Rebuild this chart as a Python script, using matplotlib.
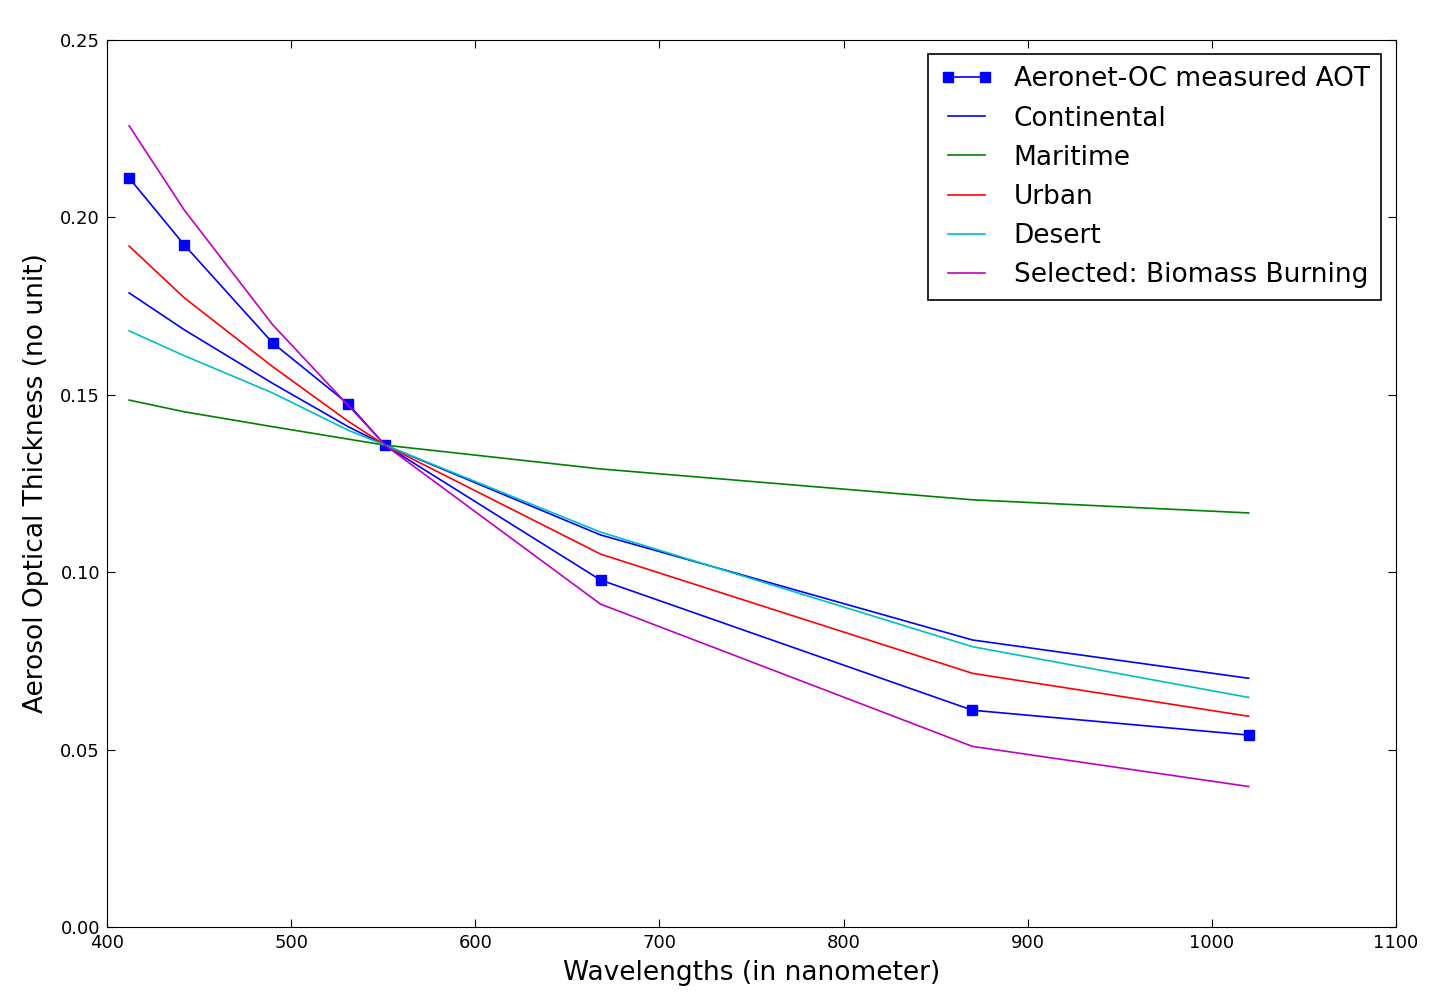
import matplotlib
matplotlib.use('Agg')
import matplotlib.pyplot as plt

wavelengths = [412, 442, 490, 531, 551, 668, 870, 1020]

aeronet = [0.2111, 0.1922, 0.1646, 0.1474, 0.1358, 0.0978, 0.0611, 0.0541]
continental = [0.1787, 0.1683, 0.1532, 0.1410, 0.1358, 0.1105, 0.0809, 0.0701]
maritime = [0.1485, 0.1452, 0.1410, 0.1375, 0.1358, 0.1291, 0.1204, 0.1167]
urban = [0.1919, 0.1773, 0.1579, 0.1425, 0.1358, 0.1051, 0.0715, 0.0594]
desert = [0.1680, 0.1610, 0.1505, 0.1400, 0.1358, 0.1113, 0.0790, 0.0647]
biomass = [0.2258, 0.2020, 0.1697, 0.1470, 0.1358, 0.0910, 0.0509, 0.0396]

labels = ['Aeronet-OC measured AOT', 'Continental', 'Maritime', 'Urban',
          'Desert', 'Selected: Biomass Burning']

fig = plt.figure(figsize=(14.29, 9.98), dpi=100)
ax = fig.add_axes([0.0749, 0.0711, 0.902, 0.8889])

ax.plot(wavelengths, aeronet, 'bs-', markersize=7, lw=1.2, label=labels[0])
ax.plot(wavelengths, continental, 'b-', lw=1.2, label=labels[1])
ax.plot(wavelengths, maritime, 'g-', lw=1.2, label=labels[2])
ax.plot(wavelengths, urban, 'r-', lw=1.2, label=labels[3])
ax.plot(wavelengths, desert, 'c-', lw=1.2, label=labels[4])
ax.plot(wavelengths, biomass, 'm-', lw=1.2, label=labels[5])

ax.set_xlim(400, 1100)
ax.set_ylim(0, 0.25)
ax.set_yticks([0.0, 0.05, 0.10, 0.15, 0.20, 0.25])
ax.set_yticklabels(['0.00', '0.05', '0.10', '0.15', '0.20', '0.25'])
ax.tick_params(direction='in', top=True, right=True, labelsize=13, length=6, pad=5)

ax.set_xlabel('Wavelengths (in nanometer)', fontsize=19, labelpad=5.5)
ax.set_ylabel('Aerosol Optical Thickness (no unit)', fontsize=19,
              fontstretch='semi-condensed', labelpad=8)

leg = ax.legend(loc='upper right', fontsize=19, numpoints=2, fancybox=False,
                framealpha=1, edgecolor='black', handlelength=2.0,
                borderaxespad=0.55, labelspacing=0.5, borderpad=0.45)
leg.get_frame().set_linewidth(1.2)

fig.savefig('out.png', dpi=100)
